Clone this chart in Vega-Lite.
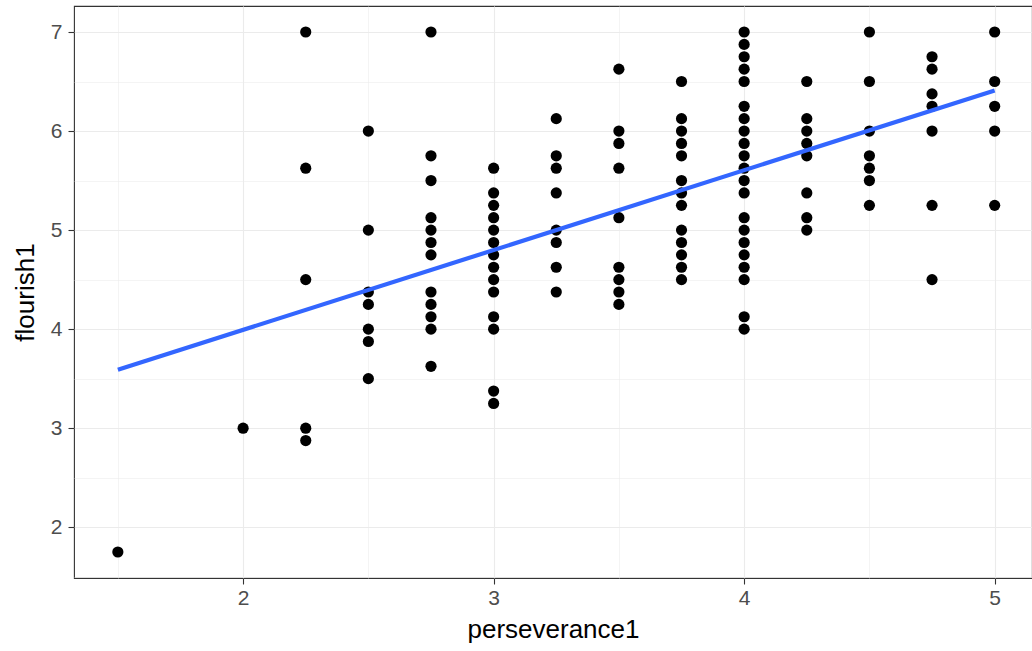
{
  "$schema": "https://vega.github.io/schema/vega-lite/v6.json",
  "width": 958,
  "height": 572,
  "autosize": "none",
  "padding": {"left": 74, "top": 6, "right": 0, "bottom": 73},
  "background": "white",
  "config": {
    "view": {"stroke": "#333333", "strokeWidth": 1.1},
    "font": "Liberation Sans",
    "axis": {
      "gridColor": "#EBEBEB",
      "domain": false,
      "tickColor": "#333333",
      "tickSize": 6,
      "tickWidth": 1.1,
      "labelColor": "#4D4D4D",
      "labelFontSize": 21,
      "labelFont": "Liberation Sans",
      "titleFont": "Liberation Sans",
      "titleFontSize": 26,
      "titleFontWeight": "normal",
      "titleColor": "black",
      "format": "~g"
    }
  },
  "datasets": {
    "pts": [
      {"perseverance1": 1.5, "flourish1": 1.75},
      {"perseverance1": 2, "flourish1": 3},
      {"perseverance1": 2.25, "flourish1": 7},
      {"perseverance1": 2.25, "flourish1": 5.625},
      {"perseverance1": 2.25, "flourish1": 4.5},
      {"perseverance1": 2.25, "flourish1": 3},
      {"perseverance1": 2.25, "flourish1": 2.875},
      {"perseverance1": 2.5, "flourish1": 6},
      {"perseverance1": 2.5, "flourish1": 5},
      {"perseverance1": 2.5, "flourish1": 4.375},
      {"perseverance1": 2.5, "flourish1": 4.25},
      {"perseverance1": 2.5, "flourish1": 4},
      {"perseverance1": 2.5, "flourish1": 3.875},
      {"perseverance1": 2.5, "flourish1": 3.5},
      {"perseverance1": 2.75, "flourish1": 7},
      {"perseverance1": 2.75, "flourish1": 5.75},
      {"perseverance1": 2.75, "flourish1": 5.5},
      {"perseverance1": 2.75, "flourish1": 5.125},
      {"perseverance1": 2.75, "flourish1": 5},
      {"perseverance1": 2.75, "flourish1": 4.875},
      {"perseverance1": 2.75, "flourish1": 4.75},
      {"perseverance1": 2.75, "flourish1": 4.375},
      {"perseverance1": 2.75, "flourish1": 4.25},
      {"perseverance1": 2.75, "flourish1": 4.125},
      {"perseverance1": 2.75, "flourish1": 4},
      {"perseverance1": 2.75, "flourish1": 3.625},
      {"perseverance1": 3, "flourish1": 5.625},
      {"perseverance1": 3, "flourish1": 5.375},
      {"perseverance1": 3, "flourish1": 5.25},
      {"perseverance1": 3, "flourish1": 5.125},
      {"perseverance1": 3, "flourish1": 5},
      {"perseverance1": 3, "flourish1": 4.875},
      {"perseverance1": 3, "flourish1": 4.75},
      {"perseverance1": 3, "flourish1": 4.625},
      {"perseverance1": 3, "flourish1": 4.5},
      {"perseverance1": 3, "flourish1": 4.375},
      {"perseverance1": 3, "flourish1": 4.125},
      {"perseverance1": 3, "flourish1": 4},
      {"perseverance1": 3, "flourish1": 3.375},
      {"perseverance1": 3, "flourish1": 3.25},
      {"perseverance1": 3.25, "flourish1": 6.125},
      {"perseverance1": 3.25, "flourish1": 5.75},
      {"perseverance1": 3.25, "flourish1": 5.625},
      {"perseverance1": 3.25, "flourish1": 5.375},
      {"perseverance1": 3.25, "flourish1": 5},
      {"perseverance1": 3.25, "flourish1": 4.875},
      {"perseverance1": 3.25, "flourish1": 4.625},
      {"perseverance1": 3.25, "flourish1": 4.375},
      {"perseverance1": 3.5, "flourish1": 6.625},
      {"perseverance1": 3.5, "flourish1": 6},
      {"perseverance1": 3.5, "flourish1": 5.875},
      {"perseverance1": 3.5, "flourish1": 5.625},
      {"perseverance1": 3.5, "flourish1": 5.125},
      {"perseverance1": 3.5, "flourish1": 4.625},
      {"perseverance1": 3.5, "flourish1": 4.5},
      {"perseverance1": 3.5, "flourish1": 4.375},
      {"perseverance1": 3.5, "flourish1": 4.25},
      {"perseverance1": 3.75, "flourish1": 6.5},
      {"perseverance1": 3.75, "flourish1": 6.125},
      {"perseverance1": 3.75, "flourish1": 6},
      {"perseverance1": 3.75, "flourish1": 5.875},
      {"perseverance1": 3.75, "flourish1": 5.75},
      {"perseverance1": 3.75, "flourish1": 5.5},
      {"perseverance1": 3.75, "flourish1": 5.375},
      {"perseverance1": 3.75, "flourish1": 5.25},
      {"perseverance1": 3.75, "flourish1": 5},
      {"perseverance1": 3.75, "flourish1": 4.875},
      {"perseverance1": 3.75, "flourish1": 4.75},
      {"perseverance1": 3.75, "flourish1": 4.625},
      {"perseverance1": 3.75, "flourish1": 4.5},
      {"perseverance1": 4, "flourish1": 7},
      {"perseverance1": 4, "flourish1": 6.875},
      {"perseverance1": 4, "flourish1": 6.75},
      {"perseverance1": 4, "flourish1": 6.625},
      {"perseverance1": 4, "flourish1": 6.5},
      {"perseverance1": 4, "flourish1": 6.25},
      {"perseverance1": 4, "flourish1": 6.125},
      {"perseverance1": 4, "flourish1": 6},
      {"perseverance1": 4, "flourish1": 5.875},
      {"perseverance1": 4, "flourish1": 5.75},
      {"perseverance1": 4, "flourish1": 5.625},
      {"perseverance1": 4, "flourish1": 5.5},
      {"perseverance1": 4, "flourish1": 5.375},
      {"perseverance1": 4, "flourish1": 5.125},
      {"perseverance1": 4, "flourish1": 5},
      {"perseverance1": 4, "flourish1": 4.875},
      {"perseverance1": 4, "flourish1": 4.75},
      {"perseverance1": 4, "flourish1": 4.625},
      {"perseverance1": 4, "flourish1": 4.5},
      {"perseverance1": 4, "flourish1": 4.125},
      {"perseverance1": 4, "flourish1": 4},
      {"perseverance1": 4.25, "flourish1": 6.5},
      {"perseverance1": 4.25, "flourish1": 6.125},
      {"perseverance1": 4.25, "flourish1": 6},
      {"perseverance1": 4.25, "flourish1": 5.875},
      {"perseverance1": 4.25, "flourish1": 5.75},
      {"perseverance1": 4.25, "flourish1": 5.375},
      {"perseverance1": 4.25, "flourish1": 5.125},
      {"perseverance1": 4.25, "flourish1": 5},
      {"perseverance1": 4.5, "flourish1": 7},
      {"perseverance1": 4.5, "flourish1": 6.5},
      {"perseverance1": 4.5, "flourish1": 6},
      {"perseverance1": 4.5, "flourish1": 5.75},
      {"perseverance1": 4.5, "flourish1": 5.625},
      {"perseverance1": 4.5, "flourish1": 5.5},
      {"perseverance1": 4.5, "flourish1": 5.25},
      {"perseverance1": 4.75, "flourish1": 6.75},
      {"perseverance1": 4.75, "flourish1": 6.625},
      {"perseverance1": 4.75, "flourish1": 6.375},
      {"perseverance1": 4.75, "flourish1": 6.25},
      {"perseverance1": 4.75, "flourish1": 6},
      {"perseverance1": 4.75, "flourish1": 5.25},
      {"perseverance1": 4.75, "flourish1": 4.5},
      {"perseverance1": 5, "flourish1": 7},
      {"perseverance1": 5, "flourish1": 6.5},
      {"perseverance1": 5, "flourish1": 6.25},
      {"perseverance1": 5, "flourish1": 6},
      {"perseverance1": 5, "flourish1": 5.25}
    ],
    "fit": [
      {"perseverance1": 1.5, "flourish1": 3.59},
      {"perseverance1": 5, "flourish1": 6.41}
    ]
  },
  "encoding": {
    "x": {
      "field": "perseverance1",
      "type": "quantitative",
      "scale": {"domain": [1.325, 5.149], "zero": false, "nice": false},
      "axis": {
        "title": "perseverance1",
        "values": [1.5, 2, 2.5, 3, 3.5, 4, 4.5, 5],
        "labelExpr": "datum.value % 1 === 0 ? datum.label : ''",
        "gridWidth": {"condition": {"test": "datum.value % 1 !== 0", "value": 0.55}, "value": 1.1},
        "tickOpacity": {"condition": {"test": "datum.value % 1 !== 0", "value": 0}, "value": 1},
        "labelPadding": 3,
        "titlePadding": 8
      }
    },
    "y": {
      "field": "flourish1",
      "type": "quantitative",
      "scale": {"domain": [1.4875, 7.2625], "zero": false, "nice": false},
      "axis": {
        "title": "flourish1",
        "values": [1.5, 2, 2.5, 3, 3.5, 4, 4.5, 5, 5.5, 6, 6.5, 7],
        "labelExpr": "datum.value % 1 === 0 ? datum.label : ''",
        "gridWidth": {"condition": {"test": "datum.value % 1 !== 0", "value": 0.55}, "value": 1.1},
        "tickOpacity": {"condition": {"test": "datum.value % 1 !== 0", "value": 0}, "value": 1},
        "labelPadding": 6,
        "titlePadding": 12
      }
    }
  },
  "layer": [
    {
      "data": {"name": "pts"},
      "mark": {"type": "circle", "color": "black", "opacity": 1, "size": 125}
    },
    {
      "data": {"name": "fit"},
      "mark": {"type": "line", "color": "#3366FF", "strokeWidth": 4.2}
    }
  ]
}
